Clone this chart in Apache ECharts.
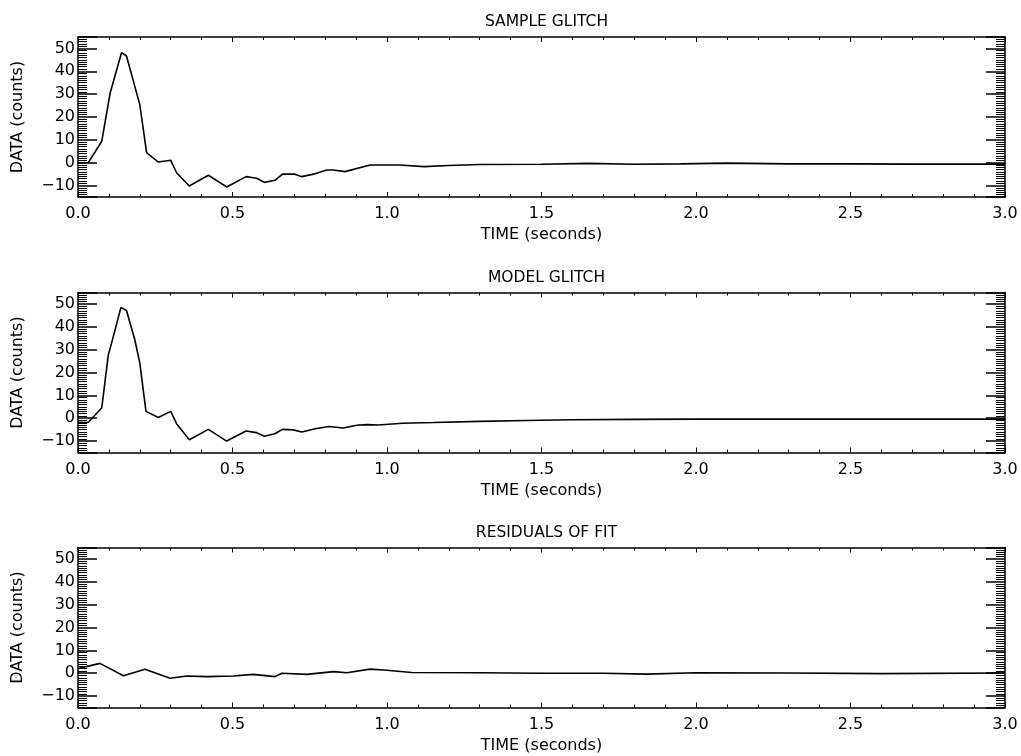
<!DOCTYPE html>
<html>
<head>
<meta charset="utf-8">
<script src="https://cdn.jsdelivr.net/npm/echarts@6.0.0/dist/echarts.min.js"></script>
<style>
html,body{margin:0;padding:0;background:#fff;}
#chart{width:1021px;height:756px;}
</style>
</head>
<body>
<div id="chart"></div>
<script>
// ---- data ----
const panelTitles = ['SAMPLE GLITCH', 'MODEL GLITCH', 'RESIDUALS OF FIT'];
const xAxisTitle = 'TIME (seconds)';
const yAxisTitle = 'DATA (counts)';

const sampleTime = [0.0, 0.033, 0.077, 0.104, 0.141, 0.157, 0.2, 0.222, 0.26, 0.3, 0.319, 0.36, 0.422, 0.481, 0.544, 0.578, 0.603, 0.637, 0.662, 0.702, 0.724, 0.762, 0.805, 0.826, 0.864, 0.945, 1.04, 1.12, 1.2, 1.3, 1.5, 1.65, 1.8, 1.95, 2.1, 2.3, 2.5, 2.7, 3.0];
const sampleCounts = [0, 0, 9.4, 30.5, 48.2, 46.7, 25.4, 4.4, 0.3, 1.1, -4.4, -10.2, -5.5, -10.6, -6.1, -6.8, -8.6, -7.7, -5.0, -5.0, -6.1, -5.0, -3.2, -3.2, -3.9, -1.0, -1.0, -1.7, -1.2, -0.8, -0.7, -0.3, -0.7, -0.5, -0.2, -0.5, -0.5, -0.6, -0.6];

const modelTime = [0.0, 0.033, 0.077, 0.098, 0.114, 0.139, 0.157, 0.184, 0.2, 0.22, 0.26, 0.3, 0.319, 0.36, 0.422, 0.481, 0.544, 0.578, 0.603, 0.637, 0.662, 0.697, 0.724, 0.768, 0.811, 0.859, 0.902, 0.935, 0.972, 1.05, 1.15, 1.3, 1.45, 1.6, 1.8, 2.0, 2.5, 3.0];
const modelCounts = [-1.8, -1.9, 4.6, 27.6, 35.6, 48.5, 47.1, 34.2, 24.2, 3.0, 0.3, 3.0, -2.4, -9.4, -4.9, -10.0, -5.6, -6.3, -7.9, -6.8, -4.9, -5.1, -6.0, -4.6, -3.6, -4.3, -3.1, -2.8, -3.0, -2.2, -1.9, -1.4, -1.0, -0.7, -0.5, -0.4, -0.4, -0.4];

const residTime = [0.0, 0.071, 0.147, 0.217, 0.298, 0.352, 0.414, 0.503, 0.567, 0.637, 0.66, 0.74, 0.827, 0.87, 0.945, 0.99, 1.08, 1.3, 1.5, 1.7, 1.84, 2.0, 2.3, 2.6, 3.0];
const residCounts = [2.0, 4.3, -1.1, 1.7, -2.2, -1.2, -1.5, -1.2, -0.5, -1.5, 0, -0.5, 0.7, 0.2, 1.8, 1.4, 0.3, 0.2, 0.0, 0.0, -0.4, 0.2, 0.1, -0.2, 0.1];

const panelTimes = [sampleTime, modelTime, residTime];
const panelCounts = [sampleCounts, modelCounts, residCounts];

// ---- layout / style ----
const FONT = '"DejaVu Sans", "Liberation Sans", sans-serif';
const gridTops = [37, 292.5, 547.5];
const gridLeft = 78, gridWidth = 927, gridHeight = 160;
const black = '#000';

const fmtY = v => {
  const r = Math.round(v);
  if (Math.abs(v - r) > 1e-6 || r % 10 !== 0) return '';
  return r < 0 ? '\u2212' + Math.abs(r) : String(Math.abs(r));
};

const grids = [], xAxes = [], yAxes = [], series = [], titles = [];

gridTops.forEach((top, i) => {
  grids.push({left: gridLeft, top: top, width: gridWidth, height: gridHeight, containLabel: false});
  titles.push({
    text: panelTitles[i], left: gridLeft + gridWidth / 2, top: top - 28, textAlign: 'center',
    textStyle: {fontFamily: FONT, fontSize: 15.5, fontWeight: 'normal', color: black}
  });
  const xCommon = {
    gridIndex: i, type: 'value', min: 0, max: 3, interval: 0.5,
    axisLine: {show: true, onZero: false, lineStyle: {color: black, width: 1.5}},
    axisTick: {show: true, inside: true, length: 5, lineStyle: {color: black, width: 1}},
    minorTick: {show: true, splitNumber: 5, length: 3, lineStyle: {color: black, width: 1}},
    splitLine: {show: false}, minorSplitLine: {show: false}
  };
  xAxes.push(Object.assign({}, xCommon, {
    position: 'bottom',
    axisLabel: {show: true, margin: 9, fontSize: 16, color: black, fontFamily: FONT, formatter: v => v.toFixed(1)},
    name: xAxisTitle, nameLocation: 'middle', nameGap: 30,
    nameTextStyle: {fontSize: 16, color: black, fontFamily: FONT}
  }));
  xAxes.push(Object.assign({}, xCommon, {position: 'top', axisLabel: {show: false}}));

  const yCommon = {
    gridIndex: i, type: 'value', min: -15, max: 55, splitNumber: 7,
    axisLine: {show: true, onZero: false, lineStyle: {color: black, width: 1.5}},
    axisTick: {show: true, inside: true, length: 19, lineStyle: {color: black, width: 1.5}},
    minorTick: {show: true, splitNumber: 10, length: 9, lineStyle: {color: black, width: 1}},
    splitLine: {show: false}, minorSplitLine: {show: false}
  };
  yAxes.push(Object.assign({}, yCommon, {
    position: 'left',
    axisLabel: {show: true, margin: 3, fontSize: 16, color: black, fontFamily: FONT, formatter: fmtY,
      showMinLabel: false, showMaxLabel: false},
    name: yAxisTitle, nameLocation: 'middle', nameGap: 52,
    nameTextStyle: {fontSize: 16, color: black, fontFamily: FONT}
  }));
  yAxes.push(Object.assign({}, yCommon, {position: 'right', axisLabel: {show: false}}));

  series.push({
    type: 'line', xAxisIndex: 2 * i, yAxisIndex: 2 * i,
    data: panelTimes[i].map((t, k) => [t, panelCounts[i][k]]),
    showSymbol: false, symbol: 'none', silent: true, animation: false,
    lineStyle: {color: black, width: 1.6}
  });
});

const chart = echarts.init(document.getElementById('chart'), null, {renderer: 'canvas'});
chart.setOption({
  backgroundColor: '#fff', animation: false,
  title: titles, grid: grids, xAxis: xAxes, yAxis: yAxes, series: series
});
</script>
</body>
</html>
